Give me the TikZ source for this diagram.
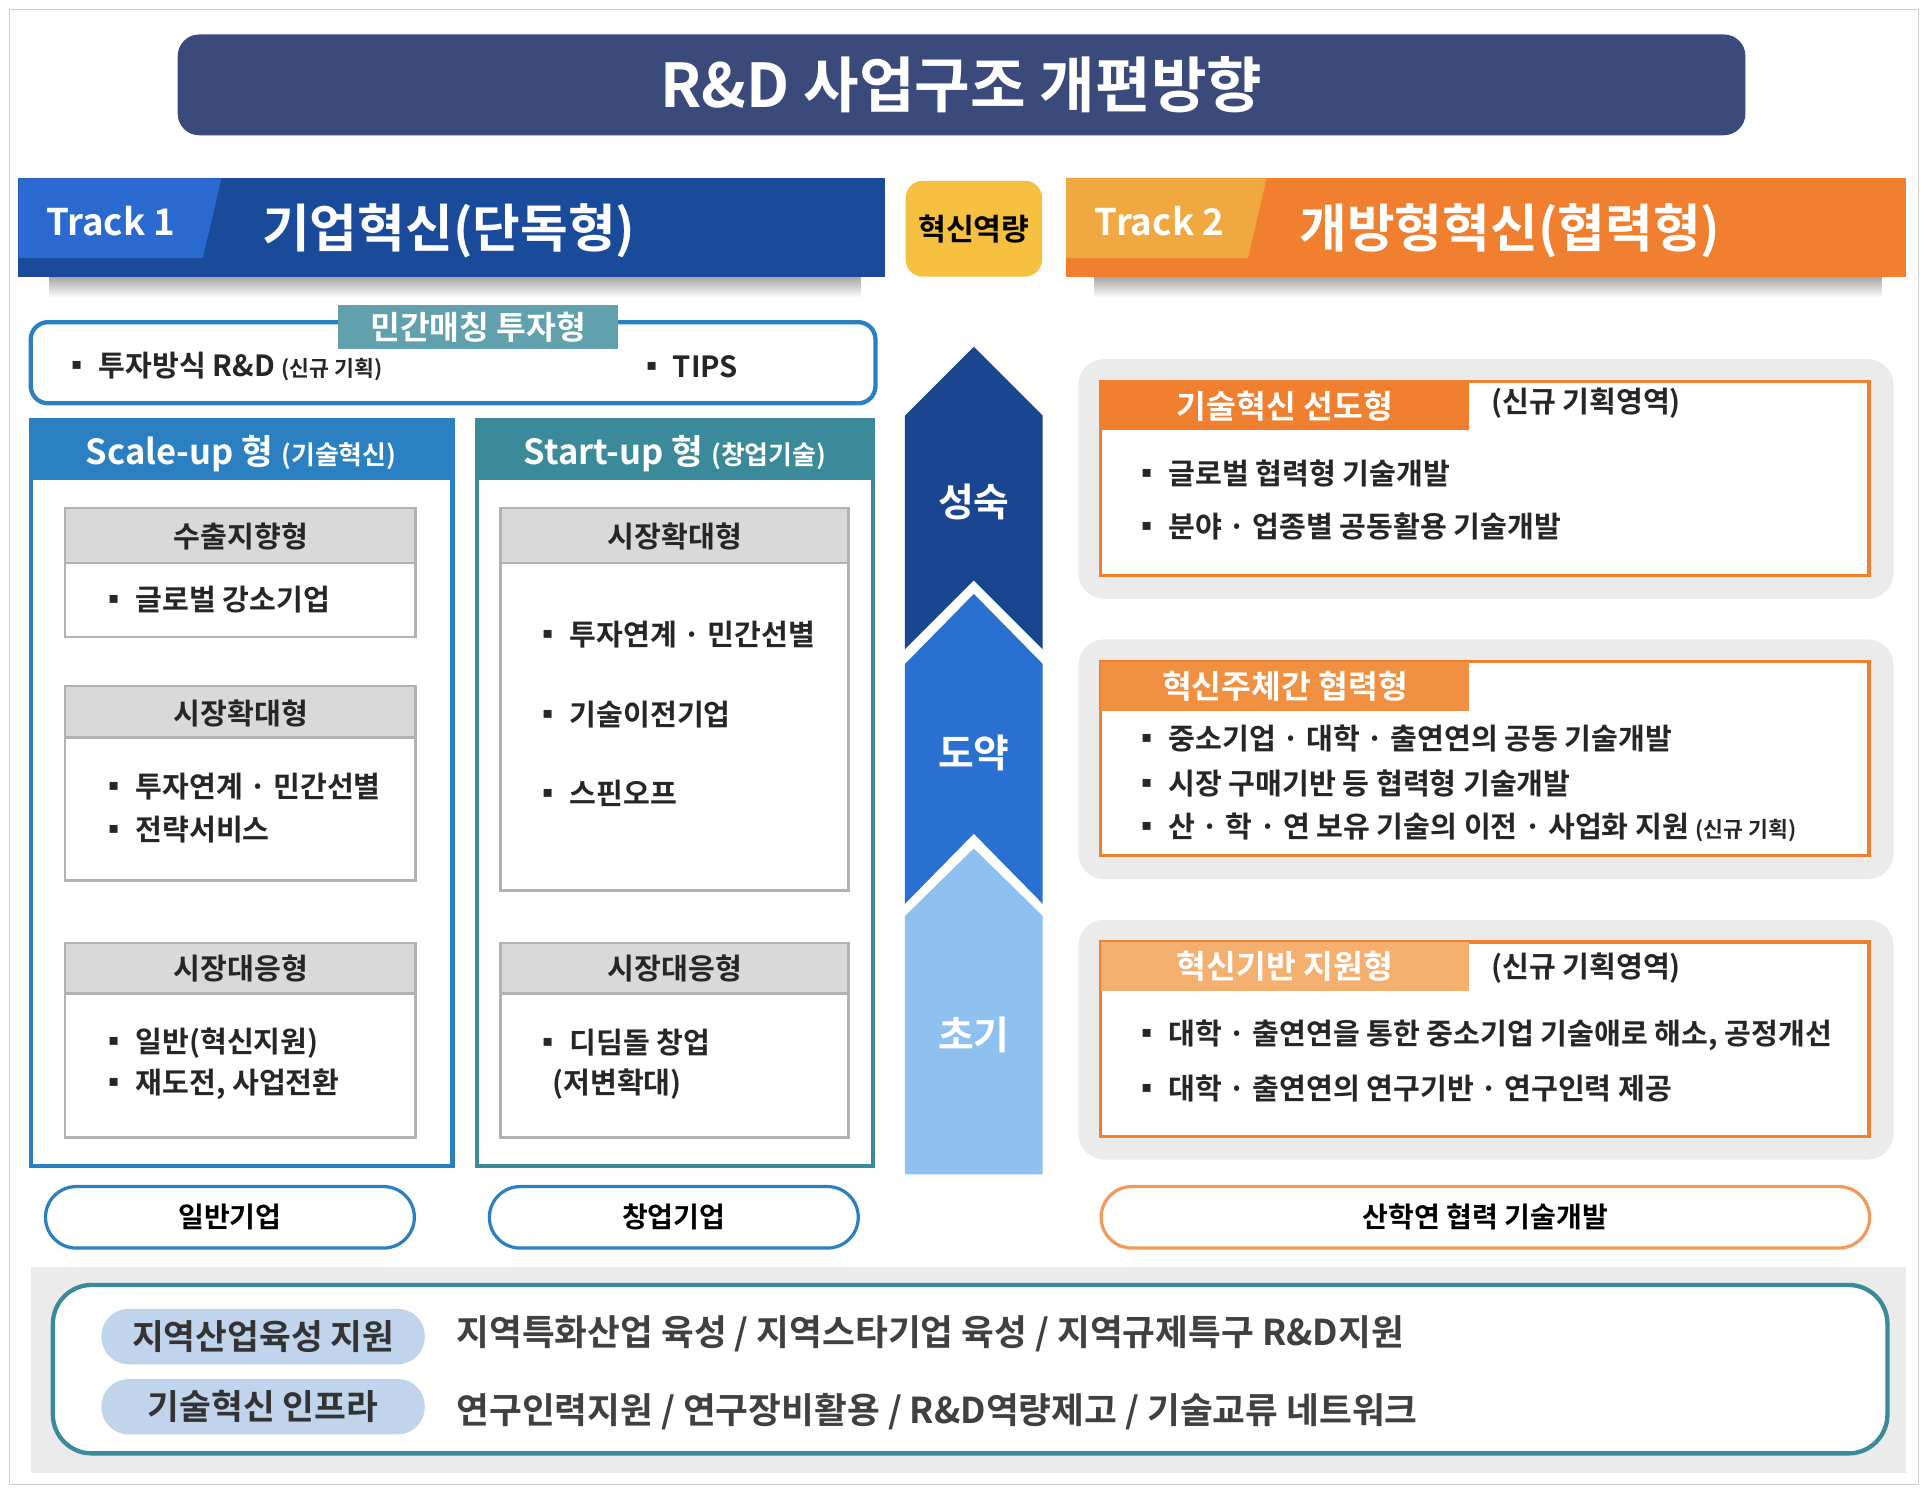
\documentclass[tikz,border=0pt]{standalone}
\usepackage{fontspec}
\setmainfont{Noto Sans CJK KR}[BoldFont={* Bold}]
\begin{document}
\begin{tikzpicture}[x=0.02cm,y=-0.02cm,font=\bfseries,
 it/.style={anchor=west,font=\fontsize{13.5}{15}\selectfont\bfseries,text=black!85},
 hd/.style={font=\fontsize{13.5}{15}\selectfont\bfseries,text=black!85},
 gbox/.style={draw=black!30,line width=1.2pt,fill=white},
 ghead/.style={draw=black!30,line width=1.2pt,fill=black!15}]
\definecolor{navy}{HTML}{3A4A7A}\definecolor{tdb}{HTML}{1A4A9A}\definecolor{tlb}{HTML}{2A6AD0}
\definecolor{org}{HTML}{F08030}\definecolor{lorg}{HTML}{F0A840}\definecolor{yel}{HTML}{F5C040}
\definecolor{sb}{HTML}{2A80C0}\definecolor{teal}{HTML}{3A8A9A}
\definecolor{ar1}{HTML}{1A4590}\definecolor{ar2}{HTML}{2A70D0}\definecolor{ar3}{HTML}{8EC0F0}
\useasboundingbox (0,0) rectangle (1568,1215);
\draw[black!20,fill=white] (8,8) rectangle (1560,1207);
% title
\node[fill=navy,rounded corners=10pt,minimum width=1275*0.02cm,minimum height=82*0.02cm,text=white,font=\fontsize{28}{30}\selectfont\bfseries] (title) at (782,69) {R\&D 사업구조 개편방향};
% track1
\shade[top color=black!35,bottom color=white] (40,225) rectangle (700,242);
\fill[tdb] (15,145) rectangle (720,225);
\fill[tlb] (15,145) -- (180,145) -- (165,210) -- (15,210) -- cycle;
\node[text=white,font=\fontsize{17}{19}\selectfont\bfseries] (t1) at (90,180) {Track 1};
\node[text=white,font=\fontsize{24}{26}\selectfont\bfseries] (t1n) at (365,188) {기업혁신(단독형)};
\node[fill=yel,rounded corners=8pt,minimum width=111*0.02cm,minimum height=78*0.02cm,font=\fontsize{14}{16}\selectfont\bfseries] (yq) at (792,186) {혁신역량};
\shade[top color=black!35,bottom color=white] (890,225) rectangle (1530,242);
\fill[org] (867,145) rectangle (1550,225);
\fill[lorg] (867,145) -- (1030,145) -- (1015,210) -- (867,210) -- cycle;
\node[text=white,font=\fontsize{17}{19}\selectfont\bfseries] (t2) at (943,180) {Track 2};
\node[text=white,font=\fontsize{24}{26}\selectfont\bfseries] (t2n) at (1228,188) {개방형혁신(협력형)};
% private matching
\draw[sb,line width=2pt,rounded corners=8pt,fill=white] (25,262) rectangle (712,328);
\node[fill=teal!80,text=white,minimum width=228*0.02cm,minimum height=35*0.02cm,font=\fontsize{15}{17}\selectfont\bfseries] (pm) at (389,266) {민간매칭 투자형};
\node[it] (pm1) at (45,298) {▪ 투자방식 R\&D {\fontsize{10}{12}\selectfont(신규 기획)}};
\node[it] (pm2) at (512,298) {▪ TIPS};
% panels
\draw[sb,line width=2pt] (25,342) rectangle (368,948);
\fill[sb] (25,342) rectangle (368,390);
\node[text=white,font=\fontsize{16}{18}\selectfont\bfseries] (sc) at (196,369) {Scale-up 형 {\fontsize{12}{14}\selectfont(기술혁신)}};
\draw[teal,line width=2pt] (388,342) rectangle (710,948);
\fill[teal] (388,342) rectangle (710,390);
\node[text=white,font=\fontsize{16}{18}\selectfont\bfseries] (st) at (549,369) {Start-up 형 {\fontsize{12}{14}\selectfont(창업기술)}};
% scale sub boxes
\draw[gbox] (53,413) rectangle (338,518); \draw[ghead] (53,413) rectangle (338,458);
\node[hd] (a1) at (196,436) {수출지향형};
\node[it] (a11) at (75,488) {▪ 글로벌 강소기업};
\draw[gbox] (53,558) rectangle (338,716); \draw[ghead] (53,558) rectangle (338,600);
\node[hd] (a2) at (196,580) {시장확대형};
\node[it] (a21) at (75,640) {▪ 투자연계 · 민간선별};
\node[it] (a22) at (75,675) {▪ 전략서비스};
\draw[gbox] (53,767) rectangle (338,925); \draw[ghead] (53,767) rectangle (338,808);
\node[hd] (a3) at (196,788) {시장대응형};
\node[it] (a31) at (75,848) {▪ 일반(혁신지원)};
\node[it] (a32) at (75,882) {▪ 재도전, 사업전환};
% start sub boxes
\draw[gbox] (407,413) rectangle (690,724); \draw[ghead] (407,413) rectangle (690,458);
\node[hd] (b1) at (549,436) {시장확대형};
\node[it] (b11) at (428,516) {▪ 투자연계 · 민간선별};
\node[it] (b12) at (428,581) {▪ 기술이전기업};
\node[it] (b13) at (428,645) {▪ 스핀오프};
\draw[gbox] (407,767) rectangle (690,925); \draw[ghead] (407,767) rectangle (690,808);
\node[hd] (b2) at (549,788) {시장대응형};
\node[it] (b21) at (428,848) {▪ 디딤돌 창업};
\node[it] (b22) at (443,882) {(저변확대)};
% ovals
\node[draw=sb,line width=1.5pt,rounded corners=25*0.02cm,minimum width=300*0.02cm,minimum height=50*0.02cm,font=\fontsize{13}{15}\selectfont\bfseries] (o1) at (187,990) {일반기업};
\node[draw=sb,line width=1.5pt,rounded corners=25*0.02cm,minimum width=300*0.02cm,minimum height=50*0.02cm,font=\fontsize{13}{15}\selectfont\bfseries] (o2) at (548,990) {창업기업};
\node[draw=org!80,line width=1.5pt,rounded corners=25*0.02cm,minimum width=625*0.02cm,minimum height=50*0.02cm,font=\fontsize{13}{15}\selectfont\bfseries] (o3) at (1208,990) {산학연 협력 기술개발};
% arrow column
\fill[ar3] (792,690) -- (848,745) -- (848,955) -- (736,955) -- (736,745) -- cycle;
\fill[ar2] (792,483) -- (848,540) -- (848,735) -- (792,678) -- (736,735) -- (736,540) -- cycle;
\fill[ar1] (792,282) -- (848,338) -- (848,528) -- (792,472) -- (736,528) -- (736,338) -- cycle;
\node[text=white,font=\fontsize{18}{20}\selectfont\bfseries] (m1) at (792,408) {성숙};
\node[text=white,font=\fontsize{18}{20}\selectfont\bfseries] (m2) at (792,612) {도약};
\node[text=white,font=\fontsize{18}{20}\selectfont\bfseries] (m3) at (792,842) {초기};
% right panels
\foreach \y/\c/\t in {292/F08030/기술혁신 선도형,520/F09040/혁신주체간 협력형,748/F5B070/혁신기반 지원형}{
 \fill[black!8,rounded corners=12pt] (877,\y) rectangle (1540,\y+195);
 \draw[org,line width=1.5pt,fill=white] (895,\y+18) rectangle (1520,\y+176);
 \definecolor{hc}{HTML}{\c}
 \fill[hc] (895,\y+18) rectangle (1195,\y+58);
 \node[text=white,font=\fontsize{15}{17}\selectfont\bfseries] at (1045,\y+38) {\t};
}
\node[hd] (n1) at (1290,328) {(신규 기획영역)};
\node[hd] (n2) at (1290,787) {(신규 기획영역)};
\node[it] (c11) at (915,385) {▪ 글로벌 협력형 기술개발};
\node[it] (c12) at (915,428) {▪ 분야 · 업종별 공동활용 기술개발};
\node[it] (c21) at (915,601) {▪ 중소기업 · 대학 · 출연연의 공동 기술개발};
\node[it] (c22) at (915,637) {▪ 시장 구매기반 등 협력형 기술개발};
\node[it] (c23) at (915,673) {▪ 산 · 학 · 연 보유 기술의 이전 · 사업화 지원 {\fontsize{10}{12}\selectfont(신규 기획)}};
\node[it] (c31) at (915,842) {▪ 대학 · 출연연을 통한 중소기업 기술애로 해소, 공정개선};
\node[it] (c32) at (915,885) {▪ 대학 · 출연연의 연구기반 · 연구인력 제공};
% bottom
\fill[black!8] (25,1030) rectangle (1550,1198);
\draw[teal,line width=2pt,fill=white,rounded corners=18pt] (43,1045) rectangle (1535,1182);
\definecolor{pill}{HTML}{C0D4EC}
\node[fill=pill,rounded corners=22*0.02cm,minimum width=263*0.02cm,minimum height=45*0.02cm,font=\fontsize{16}{18}\selectfont\bfseries,text=black!80] (p1) at (214,1087) {지역산업육성 지원};
\node[fill=pill,rounded corners=22*0.02cm,minimum width=263*0.02cm,minimum height=45*0.02cm,font=\fontsize{16}{18}\selectfont\bfseries,text=black!80] (p2) at (214,1144) {기술혁신 인프라};
\node[anchor=west,font=\fontsize{16.5}{18}\selectfont\bfseries,text=black!75] (q1) at (365,1085) {지역특화산업 육성 / 지역스타기업 육성 / 지역규제특구 R\&D지원};
\node[anchor=west,font=\fontsize{16.5}{18}\selectfont\bfseries,text=black!75] (q2) at (365,1148) {연구인력지원 / 연구장비활용 / R\&D역량제고 / 기술교류 네트워크};
\end{tikzpicture}
\end{document}
